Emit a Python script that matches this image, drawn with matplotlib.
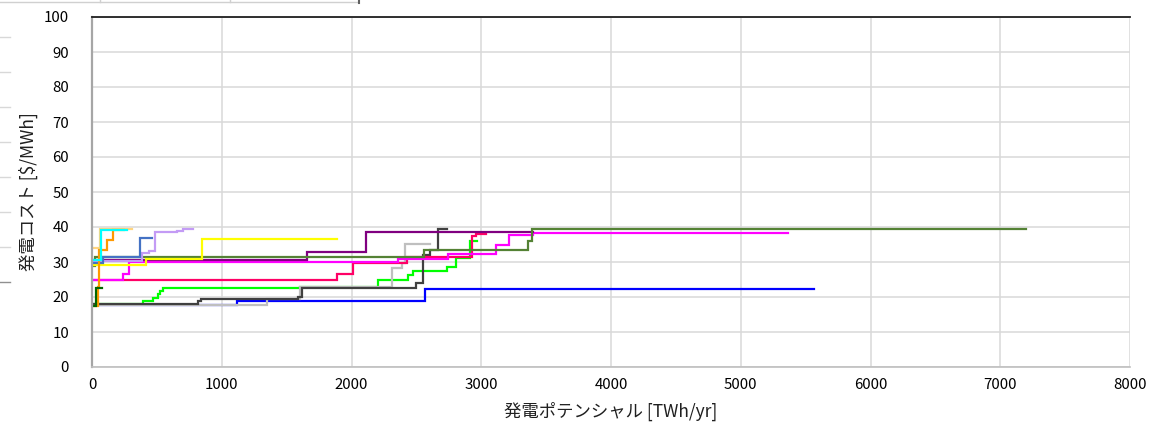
import matplotlib
matplotlib.use("Agg")
import matplotlib.pyplot as plt
from matplotlib.lines import Line2D

plt.rcParams['font.family'] = ['Noto Sans CJK JP', 'DejaVu Sans']

# Supply-curve step series: cumulative potential breakpoints [TWh/yr] and cost levels [$/MWh]
blue_x = [0, 1115, 2566, 5567]
blue_y = [17.6, 18.8, 22.3]

green_x = [0, 396, 473, 506, 524, 550, 1600, 2202, 2438, 2477, 2733, 2805, 2913, 2965]
green_y = [18.0, 18.9, 19.6, 21.0, 21.7, 22.5, 22.9, 25.0, 26.3, 27.5, 28.7, 31.2, 36.0]

lgray_x = [0, 1346, 1600, 2310, 2386, 2415, 2605]
lgray_y = [17.8, 19.3, 22.8, 28.2, 29.8, 35.2]

dgray_x = [0, 820, 840, 1590, 1616, 2497, 2553, 2605, 2664, 2735]
dgray_y = [18.0, 18.9, 19.3, 20.1, 22.7, 23.9, 32.0, 33.4, 39.3]

crimson_x = [0, 1886, 2014, 2425, 2926, 2960, 3040]
crimson_y = [24.8, 26.7, 29.6, 31.3, 37.4, 37.9]

magenta_x = [0, 241, 285, 2361, 2746, 3114, 3216, 3400, 5366]
magenta_y = [24.8, 26.6, 30.1, 30.8, 32.3, 35.0, 37.7, 38.2]

purple_x = [0, 1654, 2109, 3401]
purple_y = [30.6, 32.8, 38.7]

olive_x = [0, 20, 2559, 3363, 3389, 7198]
olive_y = [29.0, 31.3, 33.4, 36.1, 39.3]

yellow_x = [0, 416, 850, 1886]
yellow_y = [29.1, 31.0, 36.6]

lavender_x = [0, 382, 442, 486, 652, 703, 781]
lavender_y = [30.3, 32.7, 33.2, 38.5, 39.0, 39.4]

cornflower_x = [0, 87, 370, 460]
cornflower_y = [29.6, 31.3, 36.9]

tan_x = [0, 62, 306]
tan_y = [33.9, 39.4]

orange_x = [0, 50, 56, 113, 164, 250]
orange_y = [17.5, 23.0, 33.4, 36.3, 39.2]

cyan_x = [0, 70, 267]
cyan_y = [30.6, 39.1]

dkgreen_x = [0, 28, 80]
dkgreen_y = [17.5, 22.5]

series = [
    (blue_x, blue_y, '#0000FF'),
    (green_x, green_y, '#00FF00'),
    (lgray_x, lgray_y, '#BFBFBF'),
    (dgray_x, dgray_y, '#404040'),
    (crimson_x, crimson_y, '#FF0066'),
    (magenta_x, magenta_y, '#FF00FF'),
    (purple_x, purple_y, '#800080'),
    (olive_x, olive_y, '#548235'),
    (yellow_x, yellow_y, '#FFFF00'),
    (lavender_x, lavender_y, '#C39BF5'),
    (cornflower_x, cornflower_y, '#4472C4'),
    (tan_x, tan_y, '#FFD580'),
    (orange_x, orange_y, '#FF9900'),
    (cyan_x, cyan_y, '#00FFFF'),
    (dkgreen_x, dkgreen_y, '#006600'),
]

x_ticks = [0, 1000, 2000, 3000, 4000, 5000, 6000, 7000, 8000]
y_ticks = [0, 10, 20, 30, 40, 50, 60, 70, 80, 90, 100]

fig = plt.figure(figsize=(11.49, 4.24), dpi=100)
ax = fig.add_axes([92/1149, 1-367/424, (1130-92)/1149, (367-17)/424])

for xs, ys, c in series:
    ax.step(xs, list(ys) + [ys[-1]], where='post', color=c, lw=1.6, solid_joinstyle='miter')

ax.set_xlim(0, 8000)
ax.set_ylim(0, 100)
ax.set_xticks(x_ticks)
ax.set_yticks(y_ticks)
ax.grid(True, color='#D9D9D9', lw=1.1)
ax.set_axisbelow(True)
ax.tick_params(length=0, labelsize=10.8, colors='#000000')
ax.tick_params(axis='y', pad=16.5)
ax.tick_params(axis='x', pad=8)
ax.spines['right'].set_visible(False)
ax.spines['left'].set_color('#A6A6A6')
ax.spines['left'].set_linewidth(1.6)
ax.spines['bottom'].set_color('#BFBFBF')
ax.spines['bottom'].set_linewidth(1.2)
ax.spines['top'].set_color('#202020')
ax.spines['top'].set_linewidth(1.3)

ax.set_xlabel('発電ポテンシャル [TWh/yr]', fontsize=12.5, labelpad=7, color='#202020')
ax.set_ylabel('発電コスト [$/MWh]', fontsize=12.5, labelpad=4, color='#202020')

# spreadsheet background artifacts visible in the screenshot
W, H = 1149, 424
def fl(x0, y0, x1, y1, c, lw=1.0):
    fig.add_artist(Line2D([x0/W, x1/W], [1-y0/H, 1-y1/H], color=c, lw=lw, transform=fig.transFigure))
fl(0, 2, 358, 2, '#D0D0D0', 1.0)
fl(100, 0, 100, 2, '#D0D0D0', 1.0)
fl(230, 0, 230, 2, '#D0D0D0', 1.0)
fl(359, 0, 359, 3, '#606060', 1.5)
for yy in [37, 72, 107, 142, 177, 212, 247]:
    fl(0, yy, 10, yy, '#D8D8D8', 1.0)
fl(0, 282, 10, 282, '#909090', 1.0)

fig.savefig('out.png', dpi=100)
